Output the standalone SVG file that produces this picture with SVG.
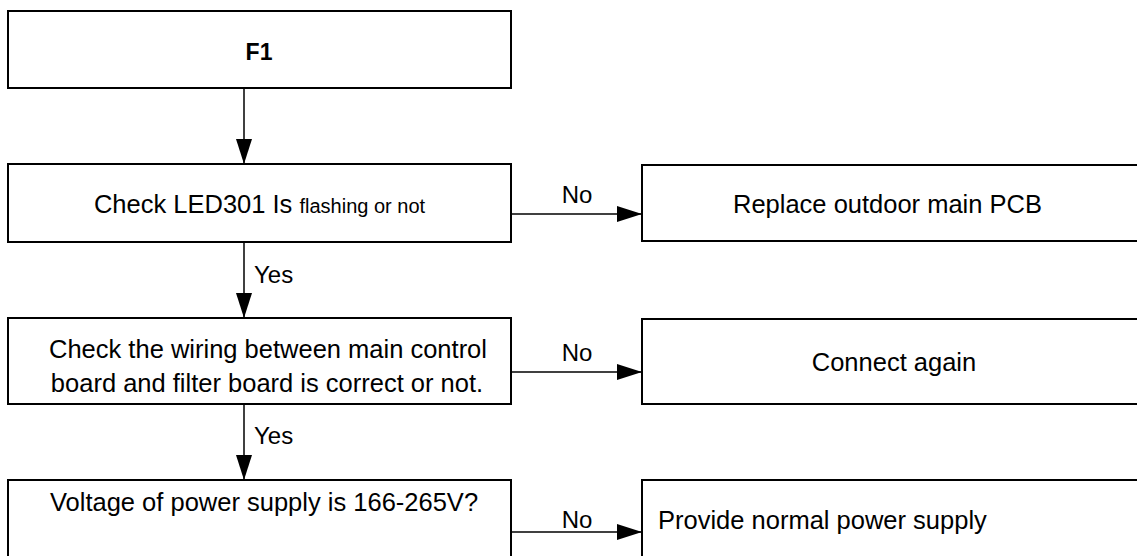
<svg xmlns="http://www.w3.org/2000/svg" width="1137" height="556" viewBox="0 0 1137 556">
<style>
.box{fill:#fff;stroke:#000;stroke-width:2}
.t{font-family:"Liberation Sans",Arial,sans-serif;font-size:25.5px;fill:#000}
.f1{font-family:"Liberation Sans",Arial,sans-serif;font-size:23px;font-weight:bold;fill:#000}
.sm{font-size:20px}
.lbl{font-family:"Liberation Sans",Arial,sans-serif;font-size:24px;fill:#000}
.c{text-anchor:middle}
.con{stroke:#000;stroke-width:1.5;fill:none;marker-end:url(#ah)}
</style>
<defs>
<marker id="ah" markerUnits="userSpaceOnUse" markerWidth="25" markerHeight="16" refX="25" refY="8" orient="auto">
<path d="M0,0 L25,8 L0,16 z" fill="#000"/>
</marker>
</defs>
<rect width="1137" height="556" fill="#fff"/>
<g id="n1">
<rect class="box" x="8" y="11" width="503" height="77"/>
<text class="f1 c" x="259" y="60">F1</text>
</g>
<g id="n2">
<rect class="box" x="8" y="164" width="503" height="78"/>
<text class="t c" x="259.5" y="213">Check LED301 Is <tspan class="sm">flashing or not</tspan></text>
</g>
<g id="n3">
<rect class="box" x="642" y="165" width="520" height="76"/>
<text class="t c" x="887.5" y="213">Replace outdoor main PCB</text>
</g>
<g id="n4">
<rect class="box" x="8" y="318" width="503" height="86"/>
<text class="t c" x="268" y="358">Check the wiring between main control</text>
<text class="t c" x="267" y="392">board and filter board is correct or not.</text>
</g>
<g id="n5">
<rect class="box" x="642" y="319" width="520" height="85"/>
<text class="t c" x="894" y="371">Connect again</text>
</g>
<g id="n6">
<rect class="box" x="8" y="480" width="503" height="100"/>
<text class="t c" x="264" y="511">Voltage of power supply is 166-265V?</text>
</g>
<g id="n7">
<rect class="box" x="642" y="480" width="520" height="100"/>
<text class="t" x="658" y="529">Provide normal power supply</text>
</g>
<g id="connectors">
<line class="con" x1="244" y1="88" x2="244" y2="164"/>
<line class="con" x1="511" y1="214" x2="642" y2="214"/>
<line class="con" x1="244" y1="242" x2="244" y2="318"/>
<line class="con" x1="511" y1="372" x2="642" y2="372"/>
<line class="con" x1="244" y1="404" x2="244" y2="480"/>
<line class="con" x1="511" y1="532" x2="642" y2="532"/>
<text class="lbl c" x="577" y="203">No</text>
<text class="lbl c" x="577" y="361">No</text>
<text class="lbl c" x="577" y="528">No</text>
<text class="lbl" x="254" y="283">Yes</text>
<text class="lbl" x="254" y="444">Yes</text>
</g>
</svg>
